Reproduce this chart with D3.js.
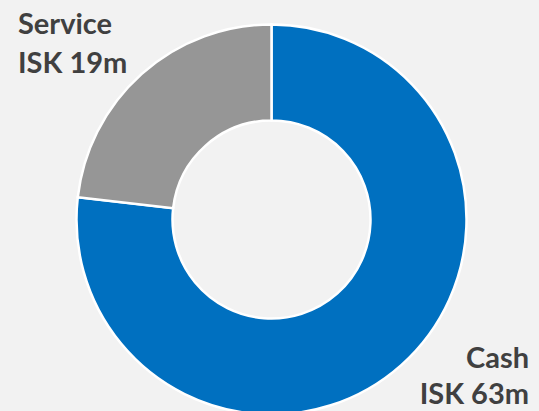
<!DOCTYPE html>
<html>
<head>
<meta charset="utf-8">
<script src="https://cdn.jsdelivr.net/npm/d3@7/dist/d3.min.js"></script>
<style>
  html, body { margin: 0; padding: 0; background: #f2f2f2; }
  svg { display: block; }
  text { font-family: Lato, "Open Sans", sans-serif; font-weight: 700; fill: #404040; }
</style>
</head>
<body>
<script>
// Revenue split (ISK millions)
const categories = ["Cash", "Service"];
const values = [63, 19];
const labelLines = [["Cash", "ISK 63m"], ["Service", "ISK 19m"]];
const colors = ["#0070c0", "#969696"];

const width = 539, height = 411;
const cx = 271.5, cy = 219.5;
const outerR = 195, innerR = 99;

const svg = d3.select("body").append("svg")
  .attr("width", width).attr("height", height);

svg.append("rect").attr("width", width).attr("height", height).attr("fill", "#f2f2f2");

const pie = d3.pie().sort(null).value(d => d)(values);
const arc = d3.arc().innerRadius(innerR).outerRadius(outerR);

const g = svg.append("g").attr("transform", `translate(${cx},${cy})`);
g.selectAll("path").data(pie).join("path")
  .attr("d", arc)
  .attr("fill", (d, i) => colors[i])
  .attr("stroke", "#ffffff")
  .attr("stroke-width", 2.5);

// Labels: Cash at bottom-right, Service at top-left
const labelPos = [
  { x: 529, anchor: "end", baselines: [368, 404] },
  { x: 18, anchor: "start", baselines: [34, 73] }
];

categories.forEach((c, i) => {
  const p = labelPos[i];
  labelLines[i].forEach((line, j) => {
    svg.append("text")
      .attr("x", p.x).attr("y", p.baselines[j])
      .attr("text-anchor", p.anchor)
      .attr("font-size", 29)
      .text(line);
  });
});
</script>
</body>
</html>
